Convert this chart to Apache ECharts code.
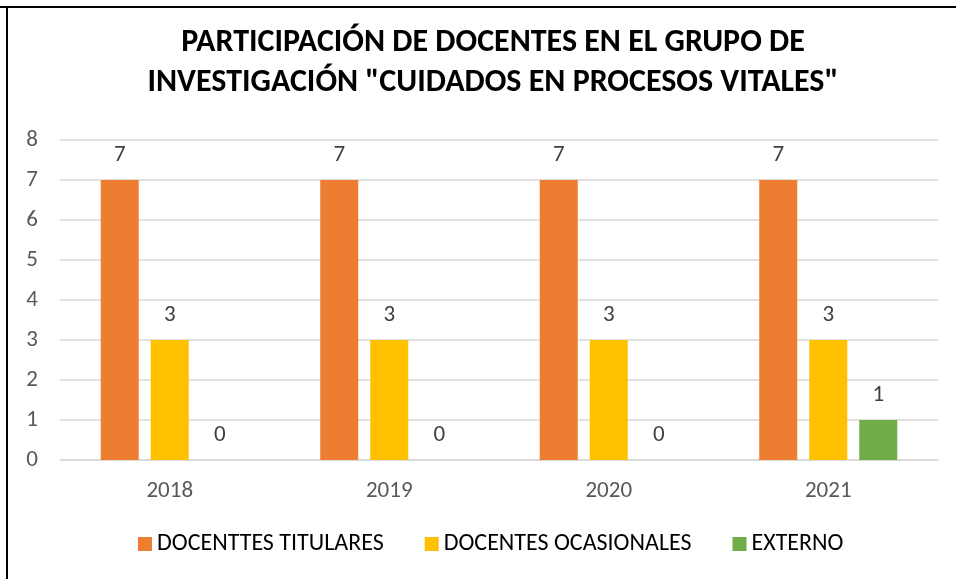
<!DOCTYPE html>
<html><head><meta charset="utf-8">
<script src="https://cdn.jsdelivr.net/npm/echarts@6/dist/echarts.min.js"></script>
<style>html,body{margin:0;padding:0;background:#fff}#c{width:956px;height:579px}</style>
</head><body><div id="c"></div>
<script>
const categories = ['2018', '2019', '2020', '2021'];
const titulares = [7, 7, 7, 7];
const ocasionales = [3, 3, 3, 3];
const externo = [0, 0, 0, 1];
const seriesNames = ['DOCENTTES TITULARES', 'DOCENTES OCASIONALES', 'EXTERNO'];
const colors = ['#ED7D31', '#FFC000', '#70AD47'];
const FONT = "Carlito, 'Liberation Sans Narrow', 'DejaVu Sans Condensed', sans-serif";

const chart = echarts.init(document.getElementById('c'), null, {renderer: 'canvas'});
const lbl = {show: true, position: 'top', distance: 13, fontSize: 23, color: '#404040', fontFamily: FONT};
const mk = (name, data, color) => ({
  name, type: 'bar', data, barWidth: 38, barGap: '31.6%',
  itemStyle: {color}, label: lbl
});
chart.setOption({
  animation: false,
  textStyle: {fontFamily: FONT},
  title: {
    text: 'PARTICIPACIÓN DE DOCENTES EN EL GRUPO DE\nINVESTIGACIÓN "CUIDADOS EN PROCESOS VITALES"',
    left: 488, textAlign: 'center', top: 18,
    textStyle: {fontSize: 32, fontWeight: 'bold', color: '#000', lineHeight: 40, fontFamily: FONT}
  },
  legend: {
    top: 527, left: 133, itemWidth: 14, itemHeight: 14, itemGap: 41,
    icon: 'rect',
    textStyle: {fontSize: 24, color: '#000', fontFamily: FONT}
  },
  grid: {left: 60, right: 18, top: 140, bottom: 119, containLabel: false},
  xAxis: {
    type: 'category', data: categories,
    axisLine: {lineStyle: {color: '#d9d9d9', width: 1.5}}, axisTick: {show: false},
    axisLabel: {fontSize: 23, color: '#595959', margin: 20, fontFamily: FONT}
  },
  yAxis: {
    type: 'value', min: 0, max: 8, interval: 1,
    axisLine: {show: false}, axisTick: {show: false},
    splitLine: {lineStyle: {color: '#d9d9d9', width: 1.5}},
    axisLabel: {fontSize: 23, color: '#595959', margin: 22, fontFamily: FONT}
  },
  graphic: [
    {type: 'line', z: 100, shape: {x1: 0, y1: 7, x2: 956, y2: 7}, style: {stroke: '#000', lineWidth: 2}},
    {type: 'line', z: 100, shape: {x1: 7, y1: 7, x2: 7, y2: 579}, style: {stroke: '#000', lineWidth: 2}}
  ],
  series: [
    mk(seriesNames[0], titulares, colors[0]),
    mk(seriesNames[1], ocasionales, colors[1]),
    mk(seriesNames[2], externo, colors[2])
  ]
});
</script></body></html>
